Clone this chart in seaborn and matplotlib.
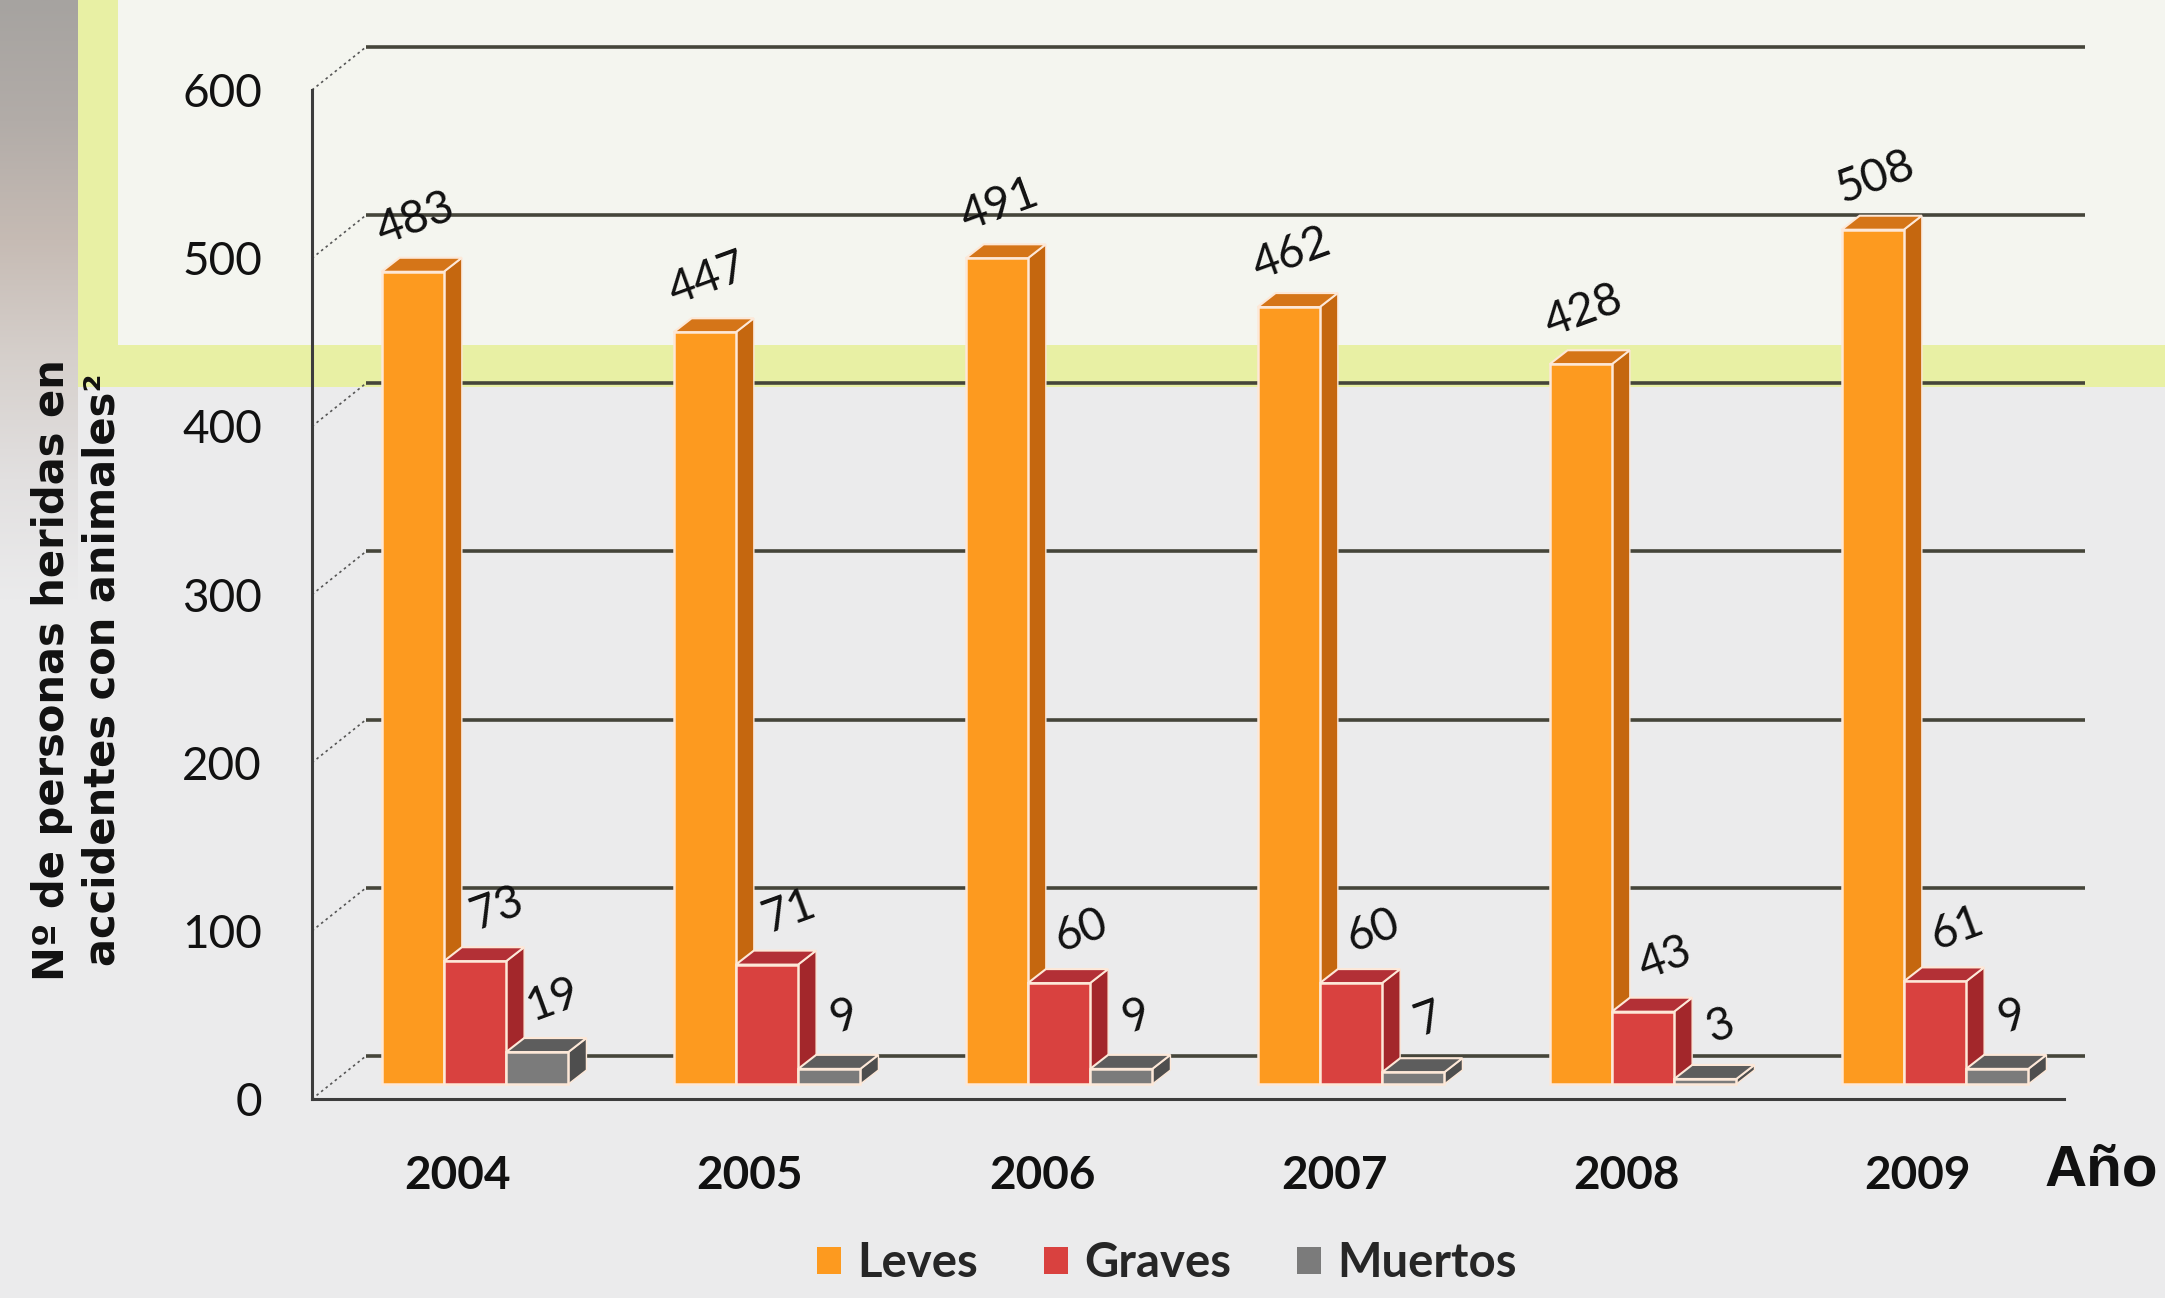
import numpy as np
import pandas as pd
import matplotlib
matplotlib.use("Agg")
import matplotlib.pyplot as plt
import matplotlib.patches as mpatches
from matplotlib.transforms import ScaledTranslation
from matplotlib.colors import LinearSegmentedColormap
import seaborn as sns

# ---------------- data ----------------
years = ["2004", "2005", "2006", "2007", "2008", "2009"]
leves = [483, 447, 491, 462, 428, 508]
graves = [73, 71, 60, 60, 43, 61]
muertos = [19, 9, 9, 7, 3, 9]
series = ["Leves", "Graves", "Muertos"]
yticks = [0, 100, 200, 300, 400, 500, 600]

# ---------------- style ----------------
front_col = ["#fd9a1f", "#d9413f", "#7b7b7b"]
side_col = ["#c5670f", "#a3272b", "#4e4e4e"]
top_col = ["#d57518", "#b33036", "#5d5d5d"]
edge_col = "#fde8d8"
label_dx_pt = [2, 16, 11]

sns.set_style("white")
plt.rcParams["font.family"] = ["Lato", "DejaVu Sans"]

W, H = 2165, 1298
fig = plt.figure(figsize=(W / 100, H / 100), dpi=100)
fig.patch.set_facecolor("#ebebec")

# ---------------- background ----------------
bg = fig.add_axes([0, 0, 1, 1], zorder=-10)
bg.add_patch(mpatches.Rectangle((0, 0), W, H, color="#ebebec", lw=0, zorder=0))
bg.add_patch(mpatches.Rectangle((78, 0), W - 78, 387, color="#e8f0a4", lw=0, zorder=1))
bg.add_patch(mpatches.Rectangle((118, 0), W - 118, 345, color="#f4f5ef", lw=0, zorder=1))
strip_cmap = LinearSegmentedColormap.from_list(
    "strip", ["#a6a3a0", "#b2aca8", "#c6bbb4", "#d6d0cc", "#e2e0e0", "#ebebec"])
bg.imshow(np.linspace(0, 1, 256).reshape(-1, 1), cmap=strip_cmap,
          extent=(0, 78, 600, 0), aspect="auto", interpolation="bilinear", zorder=2)
bg.set_xlim(0, W)
bg.set_ylim(H, 0)
bg.axis("off")

# ---------------- main axes ----------------
ax = fig.add_axes([312 / W, 1 - 1099 / H, (2064 - 312) / W, (1099 - 90) / H])
ax.patch.set_alpha(0)

df = pd.DataFrame({"Año": years, "Leves": leves, "Graves": graves, "Muertos": muertos})
df = df.melt(id_vars="Año", var_name="Tipo", value_name="Personas")

sns.barplot(data=df, x="Año", y="Personas", hue="Tipo", hue_order=series,
            palette=front_col, width=0.64, gap=0, ax=ax, legend=False,
            edgecolor=edge_col, linewidth=1.8, saturation=1)

ax.set_xlim(-0.5, 5.5)
ax.set_ylim(0, 600)

bb = ax.get_window_extent()
ux = bb.width / 6.0      # px per x unit
uy = bb.height / 600.0   # px per y unit

# back-wall gridlines (3-D depth offset)
gdx, gdy = 54 / ux, 43 / uy
x_right = 5.5 + 21 / ux
for v in yticks:
    ax.plot([-0.5 + gdx, x_right], [v + gdy, v + gdy], color="#45453a",
            lw=2.6, zorder=1, clip_on=False, solid_capstyle="butt")
    ax.plot([-0.5, -0.5 + gdx], [v, v + gdy], color="#555555", lw=1.2,
            ls=(0, (1.5, 2)), zorder=1, clip_on=False)

# bars: shift front faces + add side and top faces
shift = ScaledTranslation(17 / 100, 15 / 100, fig.dpi_scale_trans)
bar_tr = ax.transData + shift
ddx, ddy = 18 / ux, 14 / uy
n = len(years)
bars = list(ax.patches)
for i, p in enumerate(bars):
    s = i // n
    z = 3 + s
    p.set_transform(bar_tr)
    p.set_zorder(z + 0.2)
    x0, w, h = p.get_x(), p.get_width(), p.get_height()
    x1 = x0 + w
    side = mpatches.Polygon([(x1, 0), (x1, h), (x1 + ddx, h + ddy), (x1 + ddx, ddy)],
                            closed=True, facecolor=side_col[s], edgecolor=edge_col,
                            lw=1.0, transform=bar_tr, zorder=z, clip_on=False)
    top = mpatches.Polygon([(x0, h), (x1, h), (x1 + ddx, h + ddy), (x0 + ddx, h + ddy)],
                           closed=True, facecolor=top_col[s], edgecolor=edge_col,
                           lw=1.5, transform=bar_tr, zorder=z + 0.1, clip_on=False)
    ax.add_patch(side)
    ax.add_patch(top)
    ax.annotate(f"{int(round(h))}", xy=(x0 + w / 2, h), xycoords=bar_tr,
                xytext=(label_dx_pt[s], 38), textcoords="offset points",
                rotation=20, ha="center", va="center", fontsize=33,
                color="#111111", zorder=10, annotation_clip=False)

# ---------------- axes styling ----------------
for sp in ["top", "right"]:
    ax.spines[sp].set_visible(False)
for sp in ["left", "bottom"]:
    ax.spines[sp].set_color("#3c3c3c")
    ax.spines[sp].set_linewidth(2.2)

ax.set_yticks(yticks)
ax.set_yticklabels([str(t) for t in yticks], fontsize=33, color="#111111")
ax.tick_params(axis="y", direction="out", length=10, width=2, color="#3c3c3c", pad=26)

ax.set_xticks(range(n))
ax.set_xticklabels(years, fontsize=33, fontweight="bold", color="#111111")
ax.set_xticks(np.arange(-0.5, n, 1.0), minor=True)
ax.tick_params(axis="x", which="major", length=0, pad=40)
ax.tick_params(axis="x", which="minor", direction="out", length=10, width=2, color="#3c3c3c")
ax.set_xlabel("")

ax.set_ylabel("Nº de personas heridas en\naccidentes con animales²",
              fontsize=30, fontweight="bold", linespacing=1.25,
              family=["DejaVu Sans"], color="#111111")
ax.yaxis.label.set_verticalalignment("center")
ax.yaxis.set_label_coords(-0.134, 0.425)

fig.text(2101 / W, 1 - 1171 / H, "Año", ha="center", va="center", fontsize=42,
         fontweight="bold", family=["Liberation Sans", "DejaVu Sans"], color="#111111")

handles = [mpatches.Patch(facecolor=c, edgecolor="none", label=s)
           for c, s in zip(front_col, series)]
fig.legend(handles=handles, loc="center", bbox_to_anchor=(1167 / W, 1 - 1263 / H),
           ncol=3, frameon=False, handlelength=0.5, handleheight=0.5,
           handletextpad=0.35, columnspacing=1.4, prop={"weight": "bold", "size": 34})

fig.savefig("out.png", dpi=100)
